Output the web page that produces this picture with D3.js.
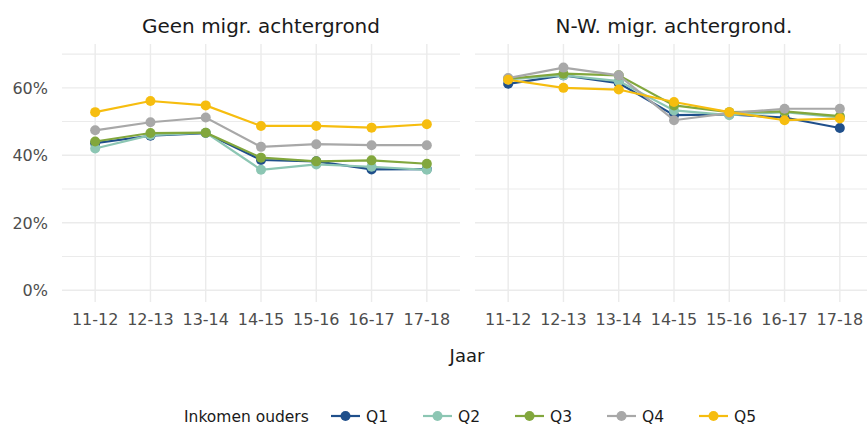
<!DOCTYPE html>
<html>
<head>
<meta charset="utf-8">
<script src="https://cdn.jsdelivr.net/npm/d3@7"></script>
<style>
  html, body { margin: 0; padding: 0; background: #fff; overflow: hidden; }
  svg { display: block; font-family: "DejaVu Sans", Verdana, sans-serif; }
</style>
</head>
<body>
<div id="chart"></div>
<script>
// School years on the x axis, income quintiles as series
const years = ["11-12", "12-13", "13-14", "14-15", "15-16", "16-17", "17-18"];
const quintiles = ["Q1", "Q2", "Q3", "Q4", "Q5"];
const quintileColors = ["#1f4f8b", "#8cc6b3", "#82a73d", "#a8a8a8", "#f6bd0f"];
const panelTitles = ["Geen migr. achtergrond", "N-W. migr. achtergrond."];
const yTicks = [0, 20, 40, 60];
const yGrid = [0, 10, 20, 30, 40, 50, 60, 70];

// percentages
const geenQ1 = [43.6, 45.8, 46.6, 38.6, 38.2, 35.8, 35.9];
const geenQ2 = [42.0, 46.0, 46.7, 35.7, 37.3, 36.6, 35.7];
const geenQ3 = [44.1, 46.6, 46.7, 39.3, 38.2, 38.5, 37.5];
const geenQ4 = [47.4, 49.8, 51.2, 42.5, 43.3, 43.0, 43.0];
const geenQ5 = [52.8, 56.1, 54.8, 48.7, 48.7, 48.2, 49.2];

const nwQ1 = [61.2, 63.7, 61.4, 51.9, 52.1, 51.2, 48.1];
const nwQ2 = [62.5, 63.7, 62.0, 53.3, 51.9, 52.8, 51.2];
const nwQ3 = [62.7, 64.2, 63.7, 54.8, 52.8, 53.0, 51.6];
const nwQ4 = [62.9, 66.0, 63.7, 50.4, 52.5, 53.8, 53.8];
const nwQ5 = [62.4, 60.0, 59.5, 55.8, 52.8, 50.4, 50.9];

const panels = [
  { title: panelTitles[0], series: [geenQ1, geenQ2, geenQ3, geenQ4, geenQ5], x0: 62, x1: 460 },
  { title: panelTitles[1], series: [nwQ1, nwQ2, nwQ3, nwQ4, nwQ5], x0: 475, x1: 873 },
];

const W = 867, H = 428;
const plotTop = 44, plotBottom = 302;

const svg = d3.select("#chart").append("svg")
  .attr("width", W)
  .attr("height", H);

const y = d3.scaleLinear().domain([-3.5, 73]).range([plotBottom, plotTop]);
const color = d3.scaleOrdinal().domain(quintiles).range(quintileColors);

panels.forEach((p, pi) => {
  const x = d3.scalePoint().domain(years).range([p.x0, p.x1]).padding(0.6);
  const g = svg.append("g");

  // grid
  g.append("g").selectAll("line.h")
    .data(yGrid)
    .join("line")
    .attr("x1", p.x0).attr("x2", p.x1)
    .attr("y1", (d) => y(d)).attr("y2", (d) => y(d))
    .attr("stroke", "#ebebeb")
    .attr("stroke-width", (d) => (d % 20 === 0 ? 1.4 : 1.1));
  g.append("g").selectAll("line.v")
    .data(years)
    .join("line")
    .attr("x1", (d) => x(d)).attr("x2", (d) => x(d))
    .attr("y1", plotTop).attr("y2", plotBottom)
    .attr("stroke", "#ebebeb")
    .attr("stroke-width", 1.4);

  // strip title
  g.append("text")
    .attr("x", (p.x0 + p.x1) / 2)
    .attr("y", 33)
    .attr("text-anchor", "middle")
    .style("font-size", "20px")
    .style("fill", "#1a1a1a")
    .text(p.title);

  // x tick labels
  g.append("g").selectAll("text")
    .data(years)
    .join("text")
    .attr("x", (d) => x(d))
    .attr("y", 325)
    .attr("text-anchor", "middle")
    .style("font-size", "16px")
    .style("fill", "#4d4d4d")
    .text((d) => d);

  // y tick labels, left panel only
  if (pi === 0) {
    g.append("g").selectAll("text")
      .data(yTicks)
      .join("text")
      .attr("x", 48)
      .attr("y", (d) => y(d))
      .attr("dy", "0.36em")
      .attr("text-anchor", "end")
      .style("font-size", "16px")
      .style("fill", "#4d4d4d")
      .text((d) => d + "%");
  }

  const line = d3.line()
    .x((d, i) => x(years[i]))
    .y((d) => y(d));

  p.series.forEach((vals, si) => {
    const c = color(quintiles[si]);
    g.append("path")
      .datum(vals)
      .attr("d", line)
      .attr("fill", "none")
      .attr("stroke", c)
      .attr("stroke-width", 2.2);
    g.append("g").selectAll("circle")
      .data(vals)
      .join("circle")
      .attr("cx", (d, i) => x(years[i]))
      .attr("cy", (d) => y(d))
      .attr("r", 5)
      .attr("fill", c);
  });
});

// x axis title
svg.append("text")
  .attr("x", 467)
  .attr("y", 362)
  .attr("text-anchor", "middle")
  .style("font-size", "18px")
  .style("fill", "#1a1a1a")
  .text("Jaar");

// legend
const legend = svg.append("g").attr("transform", "translate(0,416)");
legend.append("text")
  .attr("x", 184)
  .attr("dy", "0.36em")
  .style("font-size", "15.5px")
  .style("fill", "#1a1a1a")
  .text("Inkomen ouders");

const keyX = d3.scalePoint().domain(quintiles).range([331, 699]);
const keys = legend.selectAll("g.key")
  .data(quintiles)
  .join("g")
  .attr("class", "key")
  .attr("transform", (d) => `translate(${keyX(d)},0)`);
keys.append("line")
  .attr("x1", 0).attr("x2", 29)
  .attr("stroke", (d) => color(d))
  .attr("stroke-width", 2.2);
keys.append("circle")
  .attr("cx", 14.5)
  .attr("r", 5)
  .attr("fill", (d) => color(d));
keys.append("text")
  .attr("x", 35)
  .attr("dy", "0.36em")
  .style("font-size", "15.5px")
  .style("fill", "#1a1a1a")
  .text((d) => d);
</script>
</body>
</html>
